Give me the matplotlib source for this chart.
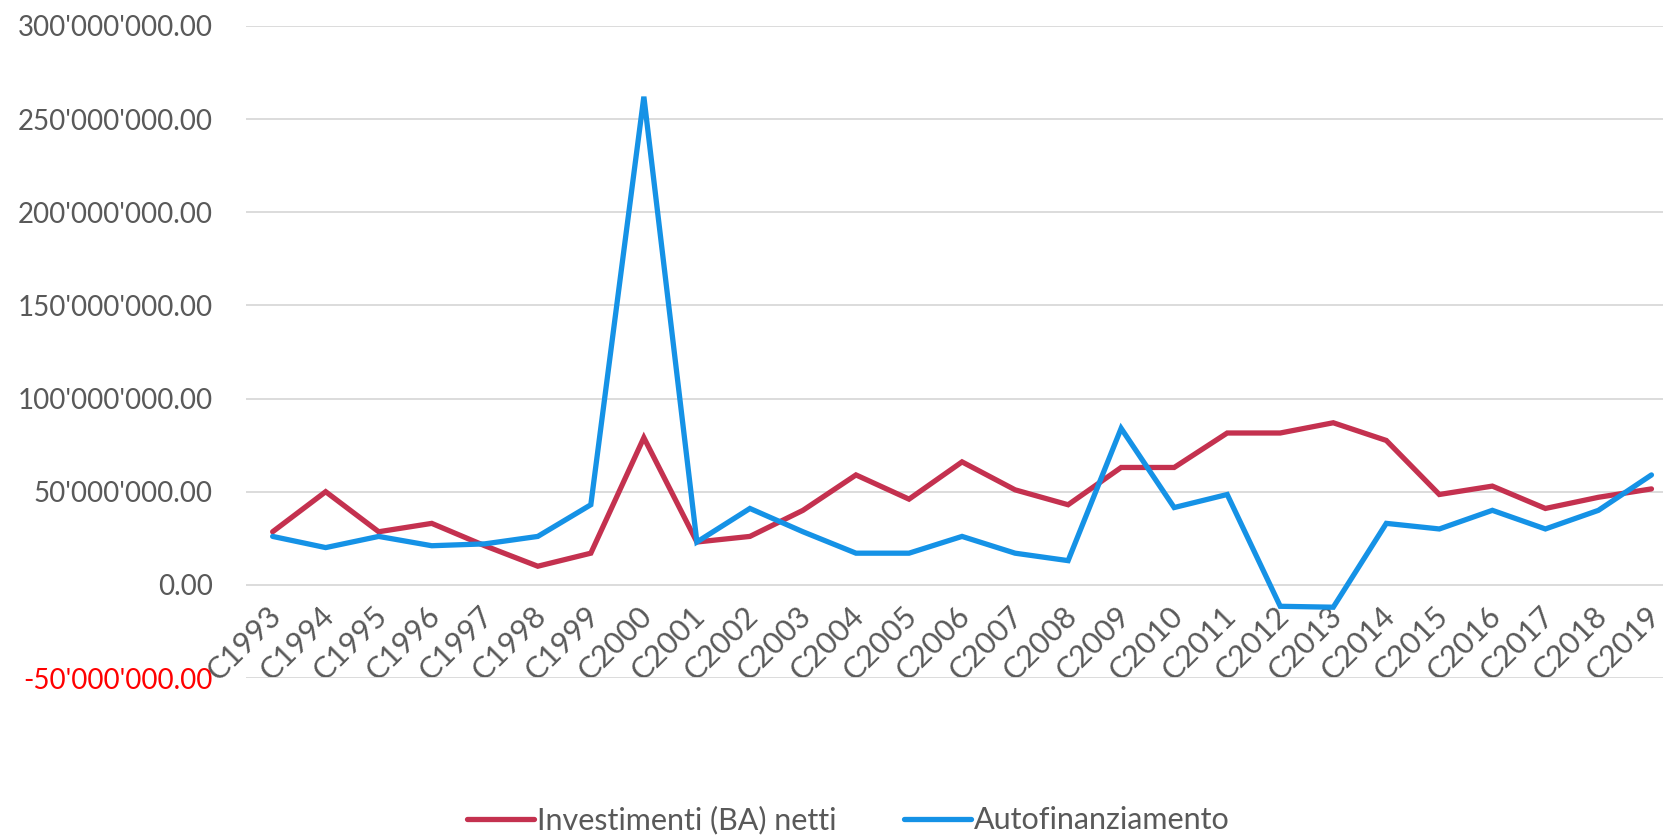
import numpy as np
import matplotlib.pyplot as plt
import matplotlib.transforms as mtransforms
from matplotlib.ticker import FuncFormatter, MultipleLocator

plt.rcParams['font.family'] = ['Lato', 'DejaVu Sans']

# data
years = [f"C{y}" for y in range(1993, 2020)]
investimenti = [28.5, 50, 28.5, 33, 21, 10, 17, 79, 23, 26, 40, 59, 46, 66, 51, 43,
                63, 63, 81.5, 81.5, 87, 77.5, 48.5, 53, 41, 47, 51.5]
autofinanziamento = [26, 20, 26, 21, 22, 26, 43, 262, 23, 41, 28.5, 17, 17, 26, 17, 13,
                     84, 41.5, 48.5, -11.5, -12, 33, 30, 40, 30, 40, 59]
investimenti = np.array(investimenti) * 1e6
autofinanziamento = np.array(autofinanziamento) * 1e6

RED = '#C4314F'
BLUE = '#1592E6'
TEXT = '#595959'

fig = plt.figure(figsize=(16.63, 8.35), dpi=100)
ax = fig.add_axes([0.148, 0.188, 0.861, 0.781])

x = np.arange(len(years))
ax.plot(x, investimenti, color=RED, lw=3.8, label='Investimenti (BA) netti',
        solid_joinstyle='miter', solid_capstyle='round')
ax.plot(x, autofinanziamento, color=BLUE, lw=3.8, label='Autofinanziamento',
        solid_joinstyle='miter', solid_capstyle='round')

ax.set_xlim(-0.5, len(years) - 0.5)
ax.set_ylim(-50e6, 300e6)
ax.yaxis.set_major_locator(MultipleLocator(50e6))
ax.yaxis.set_major_formatter(FuncFormatter(lambda v, p: f"{v:,.2f}".replace(",", "'")))
ax.grid(axis='y', color='#D9D9D9', lw=1.3)
ax.set_axisbelow(True)

for s in ax.spines.values():
    s.set_visible(False)
ax.spines['bottom'].set_position(('data', 0))

ax.set_xticks(x)
ax.set_xticklabels(years, rotation=45, ha='right', rotation_mode='anchor',
                   fontsize=22, color=TEXT)
ax.tick_params(axis='x', length=0, pad=12)
# nudge the rotated labels a bit to the left
shift = mtransforms.ScaledTranslation(-6 / 100, 0, fig.dpi_scale_trans)
for lbl in ax.get_xticklabels():
    lbl.set_transform(lbl.get_transform() + shift)

ax.tick_params(axis='y', length=0, pad=24, labelsize=20, labelcolor=TEXT)
for lbl, v in zip(ax.get_yticklabels(), ax.get_yticks()):
    if v < 0:
        lbl.set_color('#FF0000')

leg = fig.legend(loc='center', bbox_to_anchor=(0.51, 0.018), ncol=2, frameon=False,
                 fontsize=22, handlelength=2.2, handletextpad=0.1, columnspacing=2.2,
                 borderaxespad=0, borderpad=0)
for t in leg.get_texts():
    t.set_color(TEXT)

fig.savefig('out.png', dpi=100)
